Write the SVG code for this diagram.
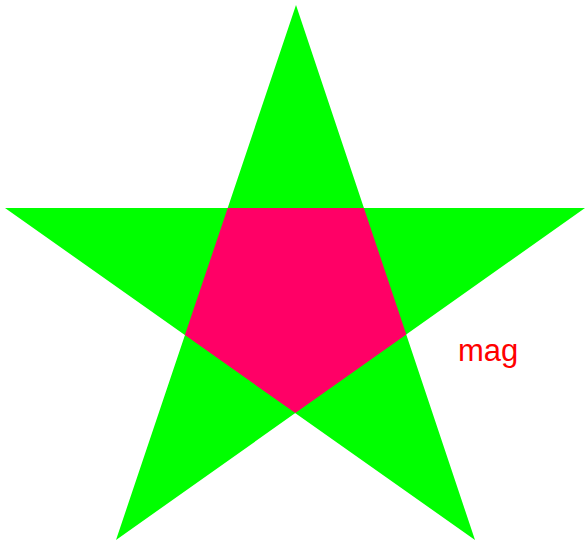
<svg xmlns="http://www.w3.org/2000/svg" width="585" height="549" viewBox="0 0 585 549">
  <style>
    .star { fill: #00ff00; }
    .core { fill: #ff0066; }
    .label { font-family: "Liberation Sans", Arial, sans-serif; font-size: 31px; fill: #ff0000; }
  </style>
  <rect width="585" height="549" fill="#ffffff"/>
  <g id="star">
    <polygon class="star" points="296,5 475,540 5,208 585,208 116,540"/>
  </g>
  <g id="pentagon">
    <polygon class="core" points="227.7,208 363.9,208 406.3,334.5 295.3,413.1 184.9,335.1"/>
  </g>
  <g id="label">
    <text class="label" x="458" y="361">mag</text>
  </g>
</svg>
